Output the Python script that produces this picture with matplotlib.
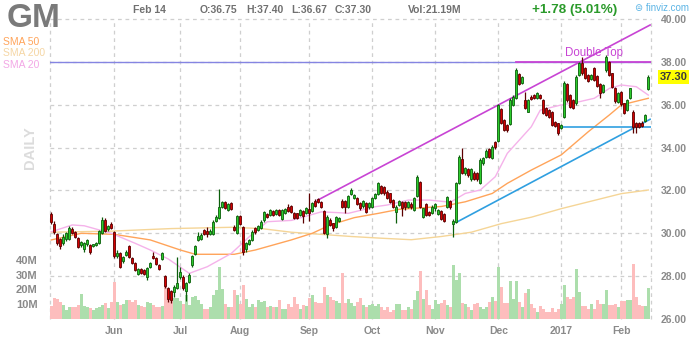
import matplotlib.pyplot as plt
import matplotlib.transforms as mtrans
import numpy as np

# ---- daily bars, May 2 2016 -> Feb 14 2017 (one row per month) ----
opens = [
    30.90, 30.43, 29.95, 29.75, 29.55, 29.75, 29.75, 30.20, 30.05, 29.80, 29.45, 29.25, 29.50, 29.45, 29.40, 29.45, 29.55, 30.00, 30.60, 30.20, 30.45,
    30.05, 28.95, 29.10, 28.70, 29.00, 29.40, 28.85, 28.60, 28.10, 28.35, 28.30, 27.95, 28.45, 28.92, 28.85, 28.50, 28.80, 28.00, 27.45, 27.30, 27.25, 27.45,
    27.95, 27.97, 27.30, 27.75, 28.50, 29.05, 29.70, 29.75, 30.15, 30.12, 29.95, 29.95, 30.59, 30.70, 31.25, 31.45, 31.10, 31.42, 30.30, 30.00,
    30.80, 30.30, 29.25, 29.50, 29.69, 30.23, 30.15, 30.23, 30.60, 30.89, 30.85, 31.05, 30.88, 31.09, 30.65, 30.95, 31.24, 31.27, 30.96, 30.93, 30.85, 31.05, 30.93,
    31.12, 31.05, 31.51, 31.60, 31.45, 31.05, 29.97, 30.62, 30.47, 30.31, 30.59, 31.51, 31.51, 31.24, 31.82, 31.63, 31.63, 31.40, 31.27, 31.40, 31.21,
    31.24, 31.63, 31.83, 32.21, 32.17, 31.94, 31.87, 31.55, 31.01, 31.32, 31.47, 31.47, 31.24, 31.39, 31.09, 31.74, 32.41, 30.78, 31.36, 31.01, 30.96,
    31.16, 30.90, 31.05, 30.90, 31.24, 31.52, 30.43, 30.54, 32.33, 33.45, 32.80, 32.99, 32.52, 32.83, 32.80, 32.36, 33.27, 33.55, 33.92, 33.50, 34.28,
    34.32, 35.78, 35.29, 35.05, 35.10, 35.99, 36.30, 37.43, 37.03, 36.22, 35.68, 36.37, 36.45, 36.30, 36.45, 36.22, 35.83, 35.75, 35.68, 35.21, 35.13,
    34.90, 35.45, 36.95, 36.45, 36.22, 36.07, 37.39, 37.93, 37.70, 37.39, 37.20, 37.70, 37.35, 36.95, 36.58, 37.62, 38.01, 37.46, 36.79, 36.14,
    36.61, 36.07, 35.75, 36.30, 35.68, 35.13, 35.13, 35.16, 35.24, 36.75,
]
highs = [
    31.00, 30.57, 30.00, 29.80, 29.95, 30.05, 30.35, 30.30, 30.10, 29.85, 29.65, 29.60, 29.75, 29.50, 29.52, 29.60, 30.15, 30.75, 30.70, 30.40, 30.55,
    30.10, 29.20, 29.15, 28.95, 29.20, 29.45, 28.90, 28.65, 28.40, 28.40, 28.35, 28.45, 28.65, 29.15, 28.90, 28.55, 29.15, 28.05, 27.50, 27.35, 27.60, 28.90,
    28.45, 28.05, 27.75, 28.15, 29.00, 29.45, 30.05, 30.00, 30.20, 30.30, 30.20, 30.60, 30.85, 32.05, 31.50, 31.50, 31.40, 31.45, 30.40, 30.85,
    30.85, 30.35, 29.60, 29.75, 30.15, 30.30, 30.40, 30.60, 31.05, 30.95, 31.15, 31.10, 31.15, 31.15, 31.12, 31.20, 31.35, 31.30, 31.00, 30.95, 31.15, 31.10, 31.25,
    31.90, 31.45, 31.60, 31.65, 31.50, 31.10, 30.85, 30.70, 30.50, 30.80, 30.78, 31.60, 31.55, 31.80, 32.10, 31.85, 31.70, 31.45, 31.55, 31.45, 31.45,
    31.70, 31.90, 32.40, 32.25, 32.20, 32.00, 31.90, 31.60, 31.30, 31.55, 31.50, 31.50, 31.50, 31.45, 31.70, 32.70, 32.45, 31.20, 31.40, 31.05, 31.30,
    31.40, 31.15, 31.10, 30.95, 31.75, 31.55, 30.65, 32.40, 33.65, 33.97, 33.10, 33.05, 33.05, 32.90, 32.85, 33.50, 33.55, 33.95, 33.97, 34.10, 34.32,
    36.05, 35.85, 35.35, 35.10, 36.30, 36.45, 37.70, 37.50, 37.35, 36.60, 36.25, 36.45, 36.50, 36.60, 36.50, 36.25, 35.90, 35.80, 35.72, 35.25, 35.15,
    35.10, 37.10, 37.00, 36.50, 36.25, 37.40, 38.00, 38.24, 37.75, 37.45, 37.45, 37.75, 37.40, 37.00, 36.95, 38.30, 38.05, 37.50, 36.85, 36.60,
    36.65, 36.10, 36.25, 36.80, 35.75, 35.20, 35.20, 35.25, 35.55, 37.40,
]
lows = [
    30.45, 29.95, 29.45, 29.25, 29.45, 29.65, 29.70, 29.95, 29.80, 29.30, 29.35, 29.15, 29.40, 29.05, 29.35, 29.40, 29.50, 29.95, 30.05, 30.10, 30.20,
    28.85, 28.85, 28.40, 28.60, 28.95, 28.85, 28.55, 28.25, 28.05, 28.10, 28.05, 27.80, 28.40, 28.80, 28.50, 28.30, 28.75, 27.45, 26.80, 26.73, 27.05, 27.40,
    27.85, 27.35, 26.85, 27.70, 28.45, 29.00, 29.65, 29.70, 29.90, 29.85, 29.90, 29.90, 30.55, 30.65, 31.20, 31.15, 31.05, 31.10, 30.10, 29.95,
    30.40, 29.00, 29.15, 29.45, 29.65, 29.95, 30.10, 30.20, 30.55, 30.70, 30.80, 30.80, 30.85, 30.80, 30.60, 30.90, 31.00, 30.95, 30.65, 30.65, 30.80, 30.47, 30.90,
    30.59, 31.00, 31.25, 31.40, 31.20, 29.95, 29.78, 30.35, 30.10, 30.25, 30.55, 31.20, 30.95, 31.20, 31.78, 31.60, 31.30, 31.10, 31.20, 30.95, 31.15,
    31.20, 31.60, 31.80, 31.85, 31.80, 31.60, 31.40, 31.20, 30.49, 31.28, 30.80, 31.10, 31.20, 31.15, 31.05, 31.70, 31.20, 30.70, 30.80, 30.80, 30.90,
    31.05, 30.85, 30.60, 30.55, 31.20, 31.15, 29.81, 30.50, 32.30, 32.75, 32.70, 32.65, 32.45, 32.50, 32.45, 32.30, 33.20, 33.50, 33.50, 33.45, 33.95,
    34.28, 35.10, 34.78, 34.75, 35.05, 35.95, 36.25, 36.90, 36.95, 35.80, 35.65, 36.20, 36.25, 36.25, 36.25, 35.55, 35.48, 35.40, 35.00, 34.98, 34.59,
    34.85, 35.40, 36.15, 35.85, 35.80, 36.00, 37.35, 37.40, 37.20, 37.05, 37.15, 37.10, 36.85, 36.30, 36.55, 37.55, 37.35, 36.80, 36.10, 36.10,
    35.95, 35.55, 35.70, 36.25, 34.67, 34.67, 34.90, 34.95, 35.20, 36.67,
]
closes = [
    30.54, 30.04, 29.55, 29.40, 29.85, 30.00, 30.25, 30.00, 29.85, 29.35, 29.60, 29.55, 29.70, 29.15, 29.48, 29.55, 30.10, 30.60, 30.10, 30.35, 30.25,
    28.95, 29.10, 28.45, 28.90, 29.15, 28.90, 28.60, 28.30, 28.35, 28.15, 28.10, 28.40, 28.60, 28.85, 28.55, 28.35, 29.10, 27.55, 26.95, 26.90, 27.50, 27.70,
    28.18, 27.43, 27.70, 28.05, 28.95, 29.40, 29.87, 29.92, 29.97, 29.97, 30.12, 30.55, 30.77, 31.25, 31.45, 31.20, 31.35, 31.15, 30.15, 30.80,
    30.45, 29.15, 29.53, 29.70, 30.07, 30.07, 30.35, 30.53, 31.00, 30.75, 31.09, 30.85, 31.09, 30.84, 31.09, 31.12, 31.05, 31.01, 30.73, 30.70, 31.09, 30.81, 31.19,
    30.96, 31.40, 31.29, 31.45, 31.24, 30.00, 30.78, 30.39, 30.23, 30.74, 30.72, 31.24, 31.24, 31.74, 32.02, 31.79, 31.35, 31.16, 31.51, 31.01, 31.40,
    31.63, 31.83, 32.33, 31.89, 31.87, 31.66, 31.47, 31.24, 31.24, 31.51, 31.16, 31.21, 31.47, 31.24, 31.63, 32.61, 31.24, 31.16, 30.85, 30.85, 31.24,
    31.36, 31.09, 30.65, 30.59, 31.68, 31.21, 30.57, 32.33, 33.58, 32.80, 33.03, 32.72, 32.99, 32.55, 32.52, 33.42, 33.50, 33.85, 33.55, 34.04, 34.02,
    35.98, 35.16, 34.82, 34.82, 36.22, 36.35, 37.62, 36.97, 37.28, 35.83, 36.22, 36.26, 36.30, 36.53, 36.30, 35.60, 35.52, 35.45, 35.05, 35.02, 34.67,
    35.05, 37.00, 36.22, 35.91, 35.86, 37.31, 37.93, 37.46, 37.23, 37.11, 37.39, 37.15, 36.89, 36.53, 36.92, 38.24, 37.39, 36.84, 36.17, 36.53,
    36.02, 35.60, 36.22, 36.76, 34.98, 34.98, 34.98, 35.01, 35.52, 37.30,
]
# volume in millions
volumes = [
    8.9, 14.2, 13.3, 11.6, 9.8, 6.2, 8.4, 7.8, 8.0, 9.3, 16.9, 8.9, 8.0, 7.3, 6.2, 7.3, 8.4, 9.3, 10.8, 7.3, 11.6,
    24.9, 11.6, 9.8, 10.4, 13.1, 12.7, 11.6, 12.7, 9.5, 8.9, 8.0, 11.6, 10.8, 9.3, 8.0, 8.4, 8.9, 22.7, 20.0, 15.1, 14.4, 14.4,
    12.0, 10.4, 16.0, 9.3, 14.9, 15.3, 12.7, 10.0, 7.1, 7.1, 8.2, 16.0, 19.3, 34.9, 20.4, 10.0, 8.2, 8.2, 19.3, 16.0,
    10.4, 22.7, 13.8, 8.2, 10.0, 8.2, 12.7, 11.6, 12.0, 8.2, 8.7, 8.2, 8.2, 12.7, 7.1, 7.1, 10.0, 8.2, 15.1, 10.4, 7.1, 9.3, 8.7,
    14.0, 16.2, 11.6, 10.9, 10.9, 21.6, 16.2, 15.1, 12.7, 12.0, 11.1, 30.9, 11.1, 13.3, 10.9, 8.7, 11.6, 14.0, 9.3, 8.2, 9.3,
    10.4, 8.7, 10.0, 8.2, 6.4, 7.8, 4.9, 6.0, 10.4, 10.0, 6.4, 6.4, 8.2, 7.1, 12.7, 18.9, 32.7, 13.8, 19.3, 9.3, 7.1,
    13.1, 10.4, 10.9, 12.7, 9.3, 8.2, 36.7, 26.7, 31.3, 10.9, 10.4, 8.2, 6.0, 10.4, 10.9, 7.8, 7.1, 8.2, 11.6, 15.1, 12.0,
    35.3, 21.6, 10.9, 10.9, 25.6, 13.8, 25.6, 11.6, 8.2, 17.8, 20.0, 10.4, 7.6, 4.9, 8.9, 7.1, 4.9, 4.4, 7.6, 4.9, 6.7,
    10.4, 22.7, 14.9, 13.8, 14.9, 33.8, 18.2, 8.9, 8.9, 7.1, 10.4, 7.1, 12.7, 10.4, 10.4, 19.3, 9.3, 9.8, 10.4, 8.2,
    12.0, 12.0, 12.7, 12.7, 37.1, 14.9, 9.8, 8.9, 8.9, 21.19,
]

# moving averages (bar index, value)
sma20_idx = [0, 7, 11, 20, 28, 33, 39, 46, 52, 60, 66, 72, 80, 90, 96, 99, 108, 112, 119, 126, 133, 138, 143, 148, 152, 160, 163, 170, 176, 181, 186, 190, 195, 199]
sma20_val = [30.07, 30.39, 30.35, 30.00, 29.53, 29.22, 28.80, 28.13, 28.44, 29.06, 29.84, 30.54, 30.60, 31.00, 30.96, 30.93, 31.24, 31.32, 31.55, 31.55, 31.45, 31.86, 32.02, 32.64, 33.73, 34.97, 35.75, 35.99, 36.14, 36.30, 36.76, 36.92, 36.84, 36.45]
sma50_idx = [0, 10, 21, 33, 43, 48, 61, 68, 80, 87, 93, 101, 109, 116, 130, 138, 147, 152, 160, 170, 179, 186, 190, 199]
sma50_val = [29.69, 30.00, 29.95, 29.69, 29.22, 29.02, 29.02, 29.22, 29.69, 30.00, 30.39, 30.73, 30.93, 31.12, 31.25, 31.47, 31.86, 32.33, 32.95, 33.66, 34.74, 35.52, 35.99, 36.30]
sma200_idx = [0, 20, 40, 60, 70, 80, 90, 100, 110, 120, 130, 140, 150, 160, 170, 180, 190, 199]
sma200_val = [30.05, 30.10, 30.22, 30.28, 30.22, 30.05, 29.95, 29.85, 29.77, 29.70, 29.85, 30.05, 30.45, 30.75, 31.15, 31.50, 31.85, 32.02]

# drawn trend lines (bar index, price)
channel_top = ([88.7, 199.6], [31.54, 39.72])
support = ([135.0, 199.6], [30.51, 35.32])
neckline = ([170, 199.9], [34.95, 34.95])
resistance = 38.0
double_top = ([155, 199.9], [38.0, 38.0])

month_labels = ["Jun", "Jul", "Aug", "Sep", "Oct", "Nov", "Dec", "2017", "Feb"]
month_start = [21, 43, 63, 86, 107, 128, 149, 170, 190]
price_ticks = [26, 28, 30, 32, 34, 36, 38, 40]
vol_ticks = [10, 20, 30, 40]

plt.rcParams['font.family'] = ['Liberation Sans', 'DejaVu Sans']

W, H = 700, 340
def px(x, y):
    return x / W, 1 - y / H

fig = plt.figure(figsize=(7, 3.4), dpi=100)
rect = [50 / W, 21 / H, 601 / W, 300 / H]
axv = fig.add_axes(rect)
ax = fig.add_axes(rect, sharex=axv)
ax.patch.set_visible(False)

o = np.array(opens); h = np.array(highs); l = np.array(lows); c = np.array(closes)
x = np.arange(len(c))
up = c >= o

axv.set_xlim(-0.43, 199.9)
axv.set_ylim(0, 203)
ax.set_ylim(26, 40)

# grid (dashed, under everything)
gkw = dict(color='#cfcfcf', lw=0.9, ls=(0, (3, 3)), zorder=0, clip_on=False)
for m in month_start:
    axv.axvline(m, **gkw)
axv.axvline(-0.43, **gkw)
axv.axvline(199.9, **gkw)
tr = mtrans.blended_transform_factory(axv.transAxes, ax.transData)
for p in price_ticks[1:]:
    axv.plot([0, 1], [p, p], transform=tr, **gkw)

# volume
vcol = np.where(up, '#acdeac', '#fdbdbd')
axv.bar(x, volumes, width=1.0, color=vcol, linewidth=0, zorder=1)

# moving averages
ax.plot(sma200_idx, sma200_val, color='#f5d597', lw=1.0, zorder=2)
ax.plot(sma50_idx, sma50_val, color='#ffa45a', lw=1.0, zorder=2)
ax.plot(sma20_idx, sma20_val, color='#f5b2ea', lw=1.0, zorder=2)

# trend lines
ax.axhline(resistance, color='#8585e2', lw=1.0, zorder=2)
ax.plot(*double_top, color='#c844d4', lw=1.3, zorder=2)
ax.plot(*channel_top, color='#c844d4', lw=1.2, zorder=2)
ax.plot(*support, color='#2f9fe0', lw=1.2, zorder=2)
ax.plot(*neckline, color='#2f9fe0', lw=1.2, zorder=2)
ax.text(181, 38.12, "Double Top", color='#c844d4', fontsize=8.3, ha='center', va='bottom')

# candles
edge = np.where(up, '#0b5e0b', '#5c0000')
face = np.where(up, '#2ccc2c', '#d40000')
ax.vlines(x, l, h, colors=edge, lw=0.9, zorder=3)
body = np.maximum(np.abs(c - o), 0.03)
ax.bar(x, body, bottom=np.minimum(o, c), width=0.65, color=face, edgecolor=edge, linewidth=0.6, zorder=4)

# axes decoration
for a in (ax, axv):
    for s in a.spines.values():
        s.set_visible(False)
ax.yaxis.tick_right()
ax.set_yticks(price_ticks)
ax.set_yticklabels([f"{p:.2f}" for p in price_ticks])
ax.tick_params(axis='y', length=0, pad=7, labelsize=7.5, labelcolor='#8a8a8a')
for t in ax.get_yticklabels():
    t.set_fontweight('bold')
axv.set_yticks(vol_ticks)
axv.set_yticklabels([f"{v}M" for v in vol_ticks])
axv.tick_params(axis='y', length=0, pad=9, labelsize=8, labelcolor='#8a8a8a')
for t in axv.get_yticklabels():
    t.set_fontweight('bold')
axv.set_xticks(month_start)
axv.set_xticklabels(month_labels)
axv.tick_params(axis='x', length=0, pad=5, labelsize=7.5, labelcolor='#8a8a8a')
for t in axv.get_xticklabels():
    t.set_fontweight('bold')
ax.tick_params(axis='x', length=0, labelbottom=False)

# last price tag on the right axis
tag_tr = mtrans.blended_transform_factory(ax.transAxes, ax.transData)
ax.annotate(f"{closes[-1]:.2f}", xy=(1, closes[-1]), xycoords=tag_tr,
            xytext=(6, 0), textcoords='offset points', ha='left', va='center',
            fontsize=8, fontweight='bold', color='#3a3a3a',
            bbox=dict(boxstyle='square,pad=0.15', fc='#ffff00', ec='none'))

# header
fig.text(*px(7, 3), "GM", fontsize=24, fontweight='bold', color='#7a7a7a', va='top')
fig.text(*px(3, 42), "SMA 50", fontsize=7.5, color='#ffa45a', va='center')
fig.text(*px(3, 53), "SMA 200", fontsize=7.5, color='#f5d6a4', va='center')
fig.text(*px(3, 65), "SMA 20", fontsize=7.5, color='#f3a8e6', va='center')
fig.text(*px(30, 148), "DAILY", fontsize=10.5, fontweight='bold', color='#dcdcdc', rotation=90, ha='center', va='center')
hdr = dict(fontsize=7.5, fontweight='bold', color='#707070', va='center')
fig.text(*px(133, 10), "Feb 14", **hdr)
fig.text(*px(200, 10), "O:36.75", **hdr)
fig.text(*px(246, 10), "H:37.40", **hdr)
fig.text(*px(291, 10), "L:36.67", **hdr)
fig.text(*px(335, 10), "C:37.30", **hdr)
fig.text(*px(408, 10), "Vol:21.19M", **hdr)
fig.text(*px(532, 10), "+1.78 (5.01%)", fontsize=9.7, fontweight='bold', color='#2a9a2a', va='center')
fig.text(*px(635, 8), "\u229c finviz.com", fontsize=7, color='#5bb4e5', va='center')

fig.savefig("out.png", dpi=100)
